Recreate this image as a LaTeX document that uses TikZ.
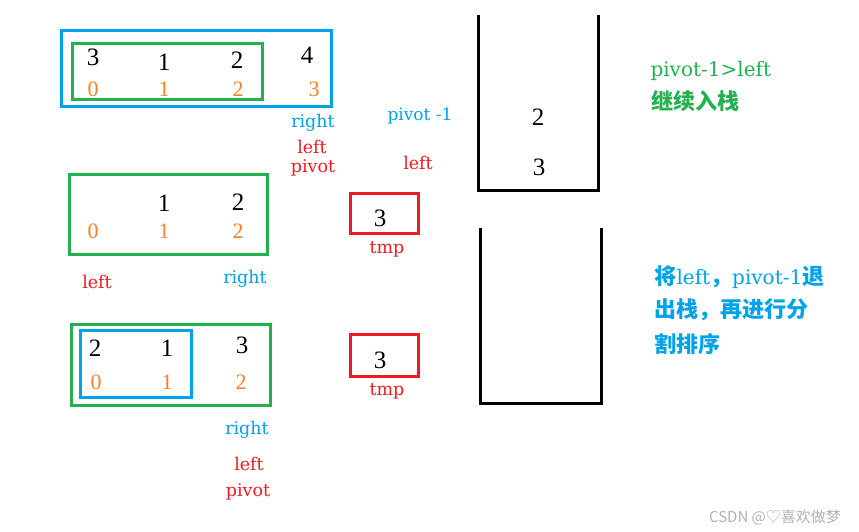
\documentclass[tikz,border=0pt]{standalone}
\usepackage{fontspec}
\setmainfont{DejaVu Serif}
\newfontfamily\numfont{Liberation Serif}
\newfontfamily\cjk[Scale=1.1]{Noto Sans CJK SC}
\newfontfamily\markfont{Noto Sans CJK SC}
\usetikzlibrary{arrows}
\definecolor{pblue}{RGB}{0,162,232}
\definecolor{pred}{RGB}{237,28,36}
\definecolor{pgreen}{RGB}{34,177,76}
\definecolor{porange}{RGB}{255,127,39}

\begin{document}
\begin{tikzpicture}[x=1pt, y=-1pt,
		num/.style={font=\numfont\fontsize{25}{25}\selectfont},
		idx/.style={text=porange, font=\numfont\fontsize{22}{22}\selectfont},
		lbl/.style={font=\fontsize{17.5}{17.5}\selectfont},
		note/.style={anchor=base west, font=\fontsize{20}{20}\selectfont}]
			\useasboundingbox (0,0) rectangle (859,532);
			\draw [color=pblue, line width=3pt] (61.5,30.5) rectangle (331.5,106.5);
			\draw [color=pgreen, line width=3pt] (72.5,43.5) rectangle (262.5,99.5);
			\foreach \v/\x/\y [count=\i from 0] in {3/93/57, 1/164/62, 2/237/60, 4/307/55}
				\node[num] (a\i) at (\x,\y) {\v};
			\foreach \x [count=\i from 0] in {93,164,238,314}
				\node[idx] (ai\i) at (\x,89) {\i};
			\node[lbl, text=pblue] (aright) at (313,123) {right};
			\node[lbl, text=pred] (aleft) at (312,147) {left};
			\node[lbl, text=pred] (apivot) at (313,168) {pivot};
			\node[lbl, text=pblue, font=\fontsize{17}{17}\selectfont] (pm) at (420,116) {pivot -1};
			\node[lbl, text=pred] (sleft) at (418,163) {left};

			\draw [color=pgreen, line width=3pt] (69.5,174.5) rectangle (267.5,254.5);
			\node[num] (b1) at (164,203) {1};
			\node[num] (b2) at (238,202) {2};
			\foreach \x [count=\i from 0] in {93,164,238}
				\node[idx] (bi\i) at (\x,231) {\i};
			\node[lbl, text=pred] (bleft) at (97,282) {left};
			\node[lbl, text=pblue] (bright) at (245,279) {right};
			\draw [color=pred, line width=3pt] (350.5,193.5) rectangle (418.5,233.5);
			\node[num] (t1) at (380,218) {3};
			\node[lbl, text=pred] (tmp1) at (387,249) {tmp};

			\draw [color=pgreen, line width=3pt] (71.5,324.5) rectangle (270.5,405.5);
			\draw [color=pblue, line width=3pt] (80.5,330.5) rectangle (191.5,397.5);
			\foreach \v/\x/\y [count=\i from 0] in {2/95/348, 1/167/348, 3/242/345}
				\node[num] (c\i) at (\x,\y) {\v};
			\foreach \x [count=\i from 0] in {96,167,241}
				\node[idx] (ci\i) at (\x,382) {\i};
			\node[lbl, text=pblue] (cright) at (247,430) {right};
			\node[lbl, text=pred] (cleft) at (249,464) {left};
			\node[lbl, text=pred] (cpivot) at (248,492) {pivot};
			\draw [color=pred, line width=3pt] (350.5,334.5) rectangle (418.5,376.5);
			\node[num] (t2) at (380,360) {3};
			\node[lbl, text=pred] (tmp2) at (387,391) {tmp};

			\draw [line width=3pt] (478.5,15) -- (478.5,190.5) -- (598.5,190.5) -- (598.5,15);
			\node[num] (s1) at (538,117) {2};
			\node[num] (s2) at (539,167) {3};
			\draw [line width=3pt] (480.5,228) -- (480.5,403.5) -- (601.5,403.5) -- (601.5,228);

			\node[note, text=pgreen] (g1) at (647,77) {pivot-1>left};
			\node[note, text=pgreen] (g2) at (648,110) {\cjk\bfseries 继续入栈};
			\node[note, text=pblue] (h1) at (651,284) {{\cjk\bfseries 将}left{\cjk\bfseries ，}pivot-1{\cjk\bfseries 退}};
			\node[note, text=pblue] (h2) at (651,317) {\cjk\bfseries 出栈，再进行分};
			\node[note, text=pblue] (h3) at (651,352) {\cjk\bfseries 割排序};

			\node[text=black!30, font=\markfont\fontsize{15}{15}\selectfont] (wm) at (775,517) {CSDN @♡喜欢做梦};
	\end{tikzpicture}
\end{document}
